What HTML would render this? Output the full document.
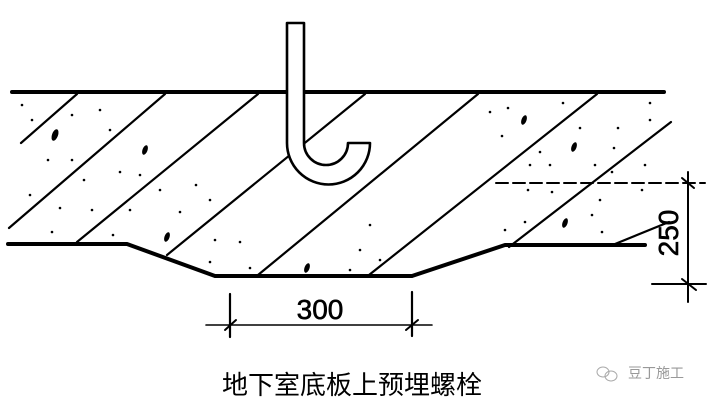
<!DOCTYPE html>
<html><head><meta charset="utf-8"><style>
html,body{margin:0;padding:0;background:#fff;width:717px;height:407px;overflow:hidden}
svg{display:block}
</style></head><body>
<svg width="717" height="407" viewBox="0 0 717 407" xmlns="http://www.w3.org/2000/svg">
<g stroke="#000" fill="none" stroke-linecap="round">
<line x1="12" y1="92" x2="664" y2="92" stroke-width="4"/>
<polyline points="8,244 127,244 215,276 412,276 505,245 645,245" stroke-width="4" stroke-linejoin="round"/>
<g stroke-width="2.2">
<line x1="77" y1="94" x2="21" y2="143"/>
<line x1="165" y1="94" x2="9" y2="228"/>
<line x1="258" y1="94" x2="77" y2="242"/>
<line x1="365" y1="94" x2="167" y2="255"/>
<line x1="478" y1="94" x2="258" y2="275"/>
<line x1="597" y1="94" x2="369" y2="275"/>
<line x1="671" y1="122" x2="509" y2="247"/>
<line x1="669" y1="222" x2="615" y2="244"/>
</g>
<line x1="496" y1="183" x2="705" y2="183" stroke-width="2" stroke-dasharray="12,5"/>
<line x1="688" y1="172" x2="688" y2="302" stroke-width="2"/>
<line x1="652" y1="284" x2="706" y2="284" stroke-width="2"/>
<line x1="682" y1="178" x2="694" y2="188" stroke-width="2"/>
<line x1="682" y1="279" x2="696" y2="290" stroke-width="2"/>
<line x1="206" y1="325" x2="432" y2="325" stroke-width="1.6"/>
<line x1="230" y1="294" x2="230" y2="337" stroke-width="2.2"/>
<line x1="412" y1="292" x2="412" y2="336" stroke-width="2.2"/>
<line x1="225" y1="330" x2="236" y2="320" stroke-width="2"/>
<line x1="406" y1="330" x2="418" y2="320" stroke-width="2"/>
</g>
<g fill="#000">
<circle cx="22" cy="105" r="1.3"/><circle cx="32" cy="120" r="1.3"/><circle cx="72" cy="115" r="1.3"/><circle cx="100" cy="110" r="1.3"/>
<circle cx="110" cy="130" r="1.3"/><circle cx="48" cy="160" r="1.3"/><circle cx="72" cy="160" r="1.3"/><circle cx="84" cy="180" r="1.3"/>
<circle cx="30" cy="195" r="1.3"/><circle cx="60" cy="208" r="1.3"/><circle cx="92" cy="210" r="1.3"/><circle cx="52" cy="232" r="1.3"/>
<circle cx="120" cy="172" r="1.3"/><circle cx="140" cy="175" r="1.3"/><circle cx="160" cy="190" r="1.3"/><circle cx="196" cy="185" r="1.3"/>
<circle cx="180" cy="212" r="1.3"/><circle cx="130" cy="210" r="1.3"/><circle cx="113" cy="235" r="1.3"/><circle cx="210" cy="200" r="1.3"/>
<circle cx="215" cy="240" r="1.3"/><circle cx="240" cy="242" r="1.3"/><circle cx="210" cy="262" r="1.3"/><circle cx="250" cy="268" r="1.3"/>
<circle cx="370" cy="225" r="1.3"/><circle cx="360" cy="250" r="1.3"/><circle cx="380" cy="260" r="1.3"/><circle cx="350" cy="270" r="1.3"/>
<circle cx="490" cy="112" r="1.3"/><circle cx="508" cy="108" r="1.3"/><circle cx="502" cy="136" r="1.3"/><circle cx="563" cy="103" r="1.3"/>
<circle cx="650" cy="103" r="1.3"/><circle cx="580" cy="128" r="1.3"/><circle cx="618" cy="128" r="1.3"/><circle cx="650" cy="120" r="1.3"/>
<circle cx="540" cy="152" r="1.3"/><circle cx="530" cy="165" r="1.3"/><circle cx="550" cy="165" r="1.3"/><circle cx="595" cy="165" r="1.3"/>
<circle cx="614" cy="148" r="1.3"/><circle cx="645" cy="165" r="1.3"/><circle cx="612" cy="172" r="1.3"/><circle cx="528" cy="190" r="1.3"/>
<circle cx="552" cy="192" r="1.3"/><circle cx="600" cy="200" r="1.3"/><circle cx="525" cy="222" r="1.3"/><circle cx="505" cy="230" r="1.3"/>
<circle cx="592" cy="215" r="1.3"/><circle cx="602" cy="232" r="1.3"/><circle cx="642" cy="190" r="1.3"/>
<ellipse cx="55" cy="135" rx="3" ry="6" transform="rotate(20 55 135)"/>
<ellipse cx="145" cy="150" rx="2.5" ry="5" transform="rotate(20 145 150)"/>
<ellipse cx="167" cy="237" rx="2.5" ry="5" transform="rotate(20 167 237)"/>
<ellipse cx="307" cy="268" rx="2.5" ry="5" transform="rotate(20 307 268)"/>
<ellipse cx="524" cy="120" rx="2.5" ry="5" transform="rotate(20 524 120)"/>
<ellipse cx="574" cy="147" rx="2.5" ry="5" transform="rotate(20 574 147)"/>
<ellipse cx="565" cy="223" rx="2.5" ry="5" transform="rotate(20 565 223)"/>
</g>
<path d="M287,23 L304,23 L304,143 A22,22 0 0 0 348,143 L370,143 A41.5,41.5 0 0 1 287,143 Z" fill="#fff" stroke="#000" stroke-width="2.6" stroke-linejoin="round"/>
<text x="320" y="319" font-family="Liberation Sans, sans-serif" font-size="28" text-anchor="middle" fill="#000" stroke="#000" stroke-width="0.6">300</text>
<text transform="translate(678,233) rotate(-90)" font-family="Liberation Sans, sans-serif" font-size="28" text-anchor="middle" fill="#000" stroke="#000" stroke-width="0.6">250</text>
<text x="352" y="394" font-family="Liberation Sans, 'Noto Sans CJK SC', sans-serif" font-size="26" text-anchor="middle" fill="#000">地下室底板上预埋螺栓</text>
<text x="628" y="378" font-family="Liberation Sans, 'Noto Sans CJK SC', sans-serif" font-size="14" fill="#999">豆丁施工</text>
<g fill="none" stroke="#aaa" stroke-width="1"><ellipse cx="603" cy="372" rx="6" ry="5"/><ellipse cx="611" cy="376" rx="6" ry="5"/></g>
</svg>
</body></html>
